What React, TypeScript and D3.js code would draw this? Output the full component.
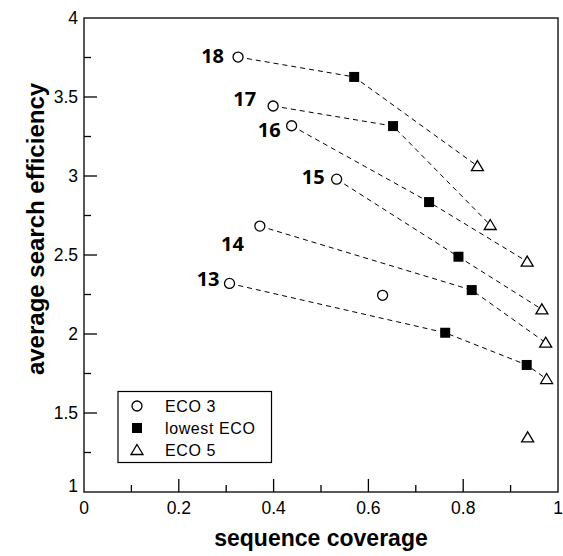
import React from 'react';
import * as d3 from 'd3';

interface Pt { n: number | null; x: number; y: number }

// chain length labels for each dashed series
const chainLengths = [18, 17, 16, 15, 14, 13];

const eco3: Pt[] = [
  { n: 18, x: 0.325, y: 3.753 },
  { n: 17, x: 0.399, y: 3.443 },
  { n: 16, x: 0.438, y: 3.318 },
  { n: 15, x: 0.533, y: 2.98 },
  { n: 14, x: 0.371, y: 2.683 },
  { n: 13, x: 0.307, y: 2.32 },
  { n: null, x: 0.63, y: 2.245 },
];

const lowestEco: Pt[] = [
  { n: 18, x: 0.57, y: 3.627 },
  { n: 17, x: 0.652, y: 3.316 },
  { n: 16, x: 0.728, y: 2.835 },
  { n: 15, x: 0.79, y: 2.489 },
  { n: 14, x: 0.818, y: 2.278 },
  { n: 13, x: 0.762, y: 2.008 },
  { n: 13, x: 0.934, y: 1.804 },
];

const eco5: Pt[] = [
  { n: 18, x: 0.83, y: 3.063 },
  { n: 17, x: 0.857, y: 2.69 },
  { n: 16, x: 0.935, y: 2.458 },
  { n: 15, x: 0.966, y: 2.156 },
  { n: 14, x: 0.974, y: 1.945 },
  { n: 13, x: 0.976, y: 1.715 },
  { n: null, x: 0.936, y: 1.346 },
];

const xTicks = [0, 0.2, 0.4, 0.6, 0.8, 1];
const yTicks = [1, 1.5, 2, 2.5, 3, 3.5, 4];
const legendItems = ['ECO 3', 'lowest ECO', 'ECO 5'];

// label nudges (px) relative to the ECO 3 circle
const labelNudge: Record<number, [number, number]> = {
  18: [-14, 6], 17: [-17, 0], 16: [-11, 11], 15: [-12, 5], 14: [-16, 25], 13: [-10, 3],
};

const W = 563, H = 556;
const left = 84, right = 558, top = 18, bottom = 492;

const App = () => {
  const x = d3.scaleLinear().domain([0, 1]).range([left, right]);
  const y = d3.scaleLinear().domain([1, 4]).range([bottom, top]);
  const line = d3.line<Pt>().x(d => x(d.x)).y(d => y(d.y));

  const all = [...eco3, ...lowestEco, ...eco5];
  const series = chainLengths.map(n =>
    all.filter(p => p.n === n).sort((a, b) => a.x - b.x)
  );

  const circle = (cx: number, cy: number, k: string) => (
    <circle key={k} cx={cx} cy={cy} r={5} fill="white" stroke="black" strokeWidth={1.3} />
  );
  const square = (cx: number, cy: number, k: string) => (
    <rect key={k} x={cx - 5} y={cy - 5} width={10} height={10} fill="black" />
  );
  const tri = (cx: number, cy: number, k: string) => (
    <path key={k} d={`M${cx},${cy - 5.5}L${cx + 6},${cy + 4.5}L${cx - 6},${cy + 4.5}Z`}
      fill="white" stroke="black" strokeWidth={1.3} />
  );

  const xMinor = d3.range(0.1, 1, 0.2);
  const yMinor = d3.range(1.25, 4, 0.5);
  const font = 'Liberation Sans, Arial, sans-serif';

  return (
    <svg width={W} height={H} style={{ position: 'absolute', left: 0, top: 0, background: 'white' }}
      fontFamily={font}>
      {/* dashed series */}
      {series.map((s, i) => (
        <path key={'l' + i} d={line(s) || ''} fill="none" stroke="black" strokeWidth={1}
          strokeDasharray="5,4" />
      ))}

      {/* frame and ticks */}
      <rect x={left} y={top} width={right - left} height={bottom - top} fill="none" stroke="#222" strokeWidth={1.5} />
      {xTicks.slice(1, -1).map(t => (
        <line key={'xt' + t} x1={x(t)} x2={x(t)} y1={bottom} y2={bottom - 13} stroke="black" strokeWidth={1.3} />
      ))}
      {xMinor.map(t => (
        <line key={'xm' + t} x1={x(t)} x2={x(t)} y1={bottom} y2={bottom - 7} stroke="black" strokeWidth={1.3} />
      ))}
      {yTicks.slice(1, -1).map(t => (
        <line key={'yt' + t} x1={left} x2={left + 13} y1={y(t)} y2={y(t)} stroke="black" strokeWidth={1.3} />
      ))}
      {yMinor.map(t => (
        <line key={'ym' + t} x1={left} x2={left + 7} y1={y(t)} y2={y(t)} stroke="black" strokeWidth={1.3} />
      ))}

      {xTicks.map(t => (
        <text key={'xl' + t} x={x(t)} y={bottom + 22} fontSize={17.5} textAnchor="middle">{d3.format('~g')(t)}</text>
      ))}
      {yTicks.map(t => (
        <text key={'yl' + t} x={left - 6} y={y(t) + 6 - (t === 1 ? 6 : 0)} fontSize={17.5} textAnchor="end">{d3.format('~g')(t)}</text>
      ))}

      {/* markers */}
      {eco3.map((p, i) => circle(x(p.x), y(p.y), 'c' + i))}
      {lowestEco.map((p, i) => square(x(p.x), y(p.y), 's' + i))}
      {eco5.map((p, i) => tri(x(p.x), y(p.y), 't' + i))}

      {/* chain length labels */}
      {eco3.filter(p => p.n !== null).map(p => {
        const [dx, dy] = labelNudge[p.n as number];
        return (
          <text key={'n' + p.n} x={x(p.x) + dx} y={y(p.y) + dy} textAnchor="end" fontSize={20}
            fontWeight="bold" fontFamily="Open Sans, Lato, sans-serif">{p.n}</text>
        );
      })}

      {/* legend */}
      <rect x={118} y={391.5} width={153.5} height={71} fill="white" stroke="black" strokeWidth={1.2} />
      {legendItems.map((name, i) => {
        const cy = 406 + i * 22;
        const mk = i === 0 ? circle(137, cy, 'lc') : i === 1 ? square(137, cy, 'ls') : tri(137, cy, 'lt');
        return (
          <g key={name}>
            {mk}
            <text x={165} y={cy + 6} fontSize={16} letterSpacing={0.6}>{name}</text>
          </g>
        );
      })}

      {/* axis titles */}
      <text x={(left + right) / 2} y={546} textAnchor="middle" fontSize={23} fontWeight="bold">sequence coverage</text>
      <text transform={`translate(44,229) rotate(-90)`} textAnchor="middle" fontSize={24} fontWeight="bold">
        average search efficiency
      </text>
    </svg>
  );
};

export default App;
